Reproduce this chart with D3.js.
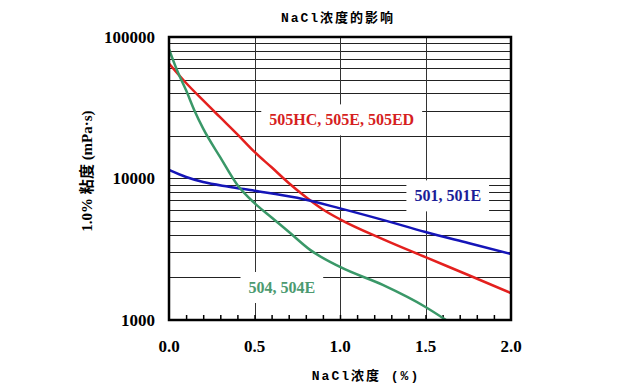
<!DOCTYPE html>
<html>
<head>
<meta charset="utf-8">
<script src="https://cdn.jsdelivr.net/npm/d3@7"></script>
<style>
  body { margin: 0; background: #fff; }
  .tick-lbl { font-family: "Liberation Serif", serif; font-weight: bold; font-size: 17px; }
  .cjk { font-family: "Liberation Mono", "Noto Sans CJK SC", monospace; font-weight: bold; font-size: 13px; letter-spacing: 2px; }
  .series-lbl { font-family: "Liberation Serif", serif; font-weight: bold; font-size: 16px; }
</style>
</head>
<body>
<div class="chart"></div>
<script>
// NaCl concentration (%) and 1.0% viscosity (mPa·s)
var conc505 = [0, 0.1, 0.2, 0.3, 0.4, 0.5, 0.6, 0.7, 0.8, 0.9, 1.0, 1.25, 1.5, 1.75, 2.0];
var visc505 = [65000, 47300, 35600, 27000, 20500, 15400, 12000, 9300, 7400, 6040, 5150, 3730, 2780, 2080, 1550];

var conc501 = [0, 0.1, 0.2, 0.35, 0.5, 0.75, 1.0, 1.25, 1.5, 1.75, 2.0];
var visc501 = [11500, 10250, 9440, 8750, 8200, 7300, 6150, 5100, 4190, 3500, 2925];

var conc504 = [0, 0.05, 0.1, 0.15, 0.2, 0.3, 0.4, 0.5, 0.6, 0.7, 0.825, 1.0, 1.25, 1.5, 1.62];
var visc504 = [82000, 57000, 42000, 30000, 22500, 14100, 9000, 6700, 5300, 4200, 3130, 2370, 1770, 1236, 1000];

var xTicks = [0, 0.5, 1.0, 1.5, 2.0];
var yTicks = [1000, 10000, 100000];

var margin = {top: 37, right: 132, bottom: 69, left: 169};
var width = 643 - margin.left - margin.right;
var height = 389 - margin.top - margin.bottom;

var svg = d3.select('.chart')
	.append('svg')
	.attr('width', 643)
	.attr('height', 389);

var g = svg.append('g')
	.attr('transform', 'translate(' + margin.left + ',' + margin.top + ')');

var xScale = d3.scaleLinear().domain([0, 2]).range([0, width]);
var yScale = d3.scaleLog().domain([1000, 100000]).range([height, 0]);

// horizontal grid at every log step
var hGrid = [];
for (var d = 1000; d < 100000; d *= 10) {
	for (var k = 1; k < 10; k++) {
		if (d * k > 1000) hGrid.push(d * k);
	}
}
g.append('g').selectAll('line')
	.data(hGrid)
	.enter().append('line')
	.attr('x1', 0).attr('x2', width)
	.attr('y1', function(d) { return Math.round(yScale(d)) + 0.5; })
	.attr('y2', function(d) { return Math.round(yScale(d)) + 0.5; })
	.style('stroke', '#222')
	.style('stroke-width', 1);

// vertical grid
g.append('g').selectAll('line')
	.data([0.5, 1.0, 1.5])
	.enter().append('line')
	.attr('x1', function(d) { return Math.round(xScale(d)) + 0.5; })
	.attr('x2', function(d) { return Math.round(xScale(d)) + 0.5; })
	.attr('y1', 0).attr('y2', height)
	.style('stroke', '#333')
	.style('stroke-width', 1);

// minor ticks on bottom
var xAxis = d3.axisBottom(xScale)
	.tickValues(d3.range(1, 20).map(function(i) { return i / 10; }))
	.tickSize(-5)
	.tickFormat('');
g.append('g')
	.attr('class', 'xaxis')
	.attr('transform', 'translate(0,' + height + ')')
	.call(xAxis)
	.call(function(s) { s.select('.domain').remove(); s.selectAll('line').style('stroke', '#000').style('stroke-width', 1.5); });

// tick labels
g.append('g').selectAll('text')
	.data(xTicks)
	.enter().append('text')
	.attr('class', 'tick-lbl')
	.attr('x', function(d) { return xScale(d); })
	.attr('y', height + 32)
	.attr('text-anchor', 'middle')
	.text(function(d) { return d3.format('.1f')(d); });

g.append('g').selectAll('text')
	.data(yTicks)
	.enter().append('text')
	.attr('class', 'tick-lbl')
	.attr('x', -14)
	.attr('y', function(d) { return yScale(d); })
	.attr('dy', '0.35em')
	.attr('text-anchor', 'end')
	.text(function(d) { return d; });

// series
var series = [
	{x: conc505, y: visc505, color: '#e4201e'},
	{x: conc501, y: visc501, color: '#1515b8'},
	{x: conc504, y: visc504, color: '#3a9868'}
];

svg.append('defs').append('clipPath').attr('id', 'clip')
	.append('rect').attr('width', width).attr('height', height);

var line = d3.line()
	.x(function(d) { return xScale(d[0]); })
	.y(function(d) { return yScale(d[1]); })
	.curve(d3.curveMonotoneX);

g.append('g').attr('clip-path', 'url(#clip)')
	.selectAll('path')
	.data(series)
	.enter().append('path')
	.attr('d', function(s) { return line(d3.zip(s.x, s.y)); })
	.style('fill', 'none')
	.style('stroke', function(s) { return s.color; })
	.style('stroke-width', 2.5);

// series labels with white boxes
var labels = [
	{text: '505HC, 505E, 505ED', x: 1.01, y: 26000, color: '#d61f1f'},
	{text: '501, 501E', x: 1.63, y: 7550, color: '#1c1c98'},
	{text: '504, 504E', x: 0.66, y: 1700, color: '#4c9a70'}
];
labels.forEach(function(l) {
	var lg = g.append('g');
	var t = lg.append('text')
		.attr('class', 'series-lbl')
		.attr('x', xScale(l.x))
		.attr('y', yScale(l.y))
		.attr('dy', '0.35em')
		.attr('text-anchor', 'middle')
		.style('fill', l.color)
		.text(l.text);
	var bb = t.node().getBBox();
	lg.insert('rect', 'text')
		.attr('x', bb.x - 8).attr('y', bb.y - 7)
		.attr('width', bb.width + 16).attr('height', bb.height + 14)
		.style('fill', '#fff');
});

// frame
g.append('rect')
	.attr('width', width).attr('height', height)
	.style('fill', 'none')
	.style('stroke', '#000')
	.style('stroke-width', 2.5);

// titles
svg.append('text')
	.attr('class', 'cjk')
	.attr('x', 338).attr('y', 22)
	.attr('text-anchor', 'middle')
	.text('NaCl浓度的影响');

svg.append('text')
	.attr('class', 'cjk')
	.attr('x', 366).attr('y', 380)
	.attr('text-anchor', 'middle')
	.text('NaCl浓度 (%)');

svg.append('text')
	.attr('transform', 'translate(92,171) rotate(-90)')
	.attr('text-anchor', 'middle')
	.style('font-family', '"Liberation Serif", "Noto Sans CJK SC", serif')
	.style('font-weight', 'bold')
	.style('font-size', '15px')
	.text('1.0% 粘度 (mPa·s)');
</script>
</body>
</html>
